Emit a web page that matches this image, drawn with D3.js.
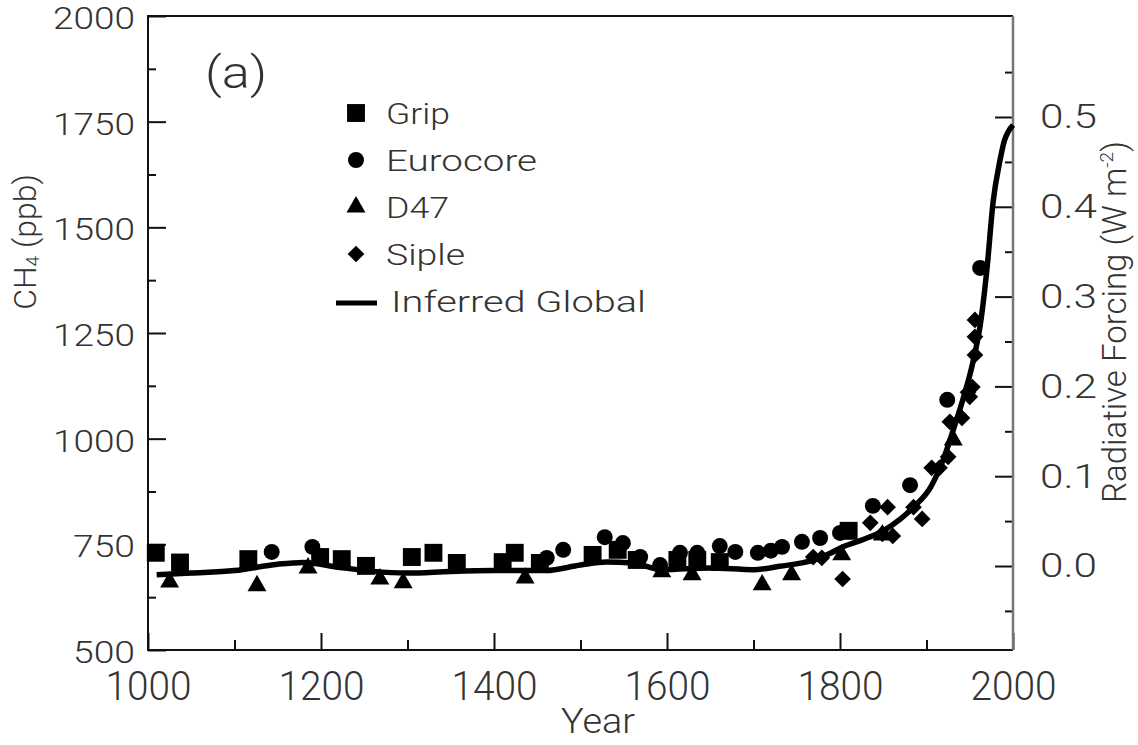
<!DOCTYPE html>
<html>
<head>
<meta charset="utf-8">
<script src="https://cdn.jsdelivr.net/npm/d3@7"></script>
<style>
  html, body { margin: 0; padding: 0; background: #fff; }
  svg { display: block; }
  text { font-family: Roboto, "DejaVu Sans", sans-serif; font-weight: 300; fill: #333; }
</style>
</head>
<body>
<svg id="chart" width="1138" height="745"></svg>
<script>
// ---- data (year, CH4 ppb) ----
const grip = [[1009,730],[1037,707],[1116,715],[1199,720],[1224,715],[1252,699],[1305,720],[1330,730],[1357,706],[1410,708],[1424,730],[1453,706],[1514,725],[1543,737],[1565,713],[1612,713],[1635,713],[1661,708],[1810,782]];
const eurocore = [[1143,732],[1190,744],[1461,718],[1480,737],[1528,767],[1549,753],[1569,720],[1592,701],[1615,730],[1635,730],[1661,746],[1679,732],[1705,730],[1720,735],[1733,744],[1756,756],[1777,765],[1800,777],[1838,841],[1881,890],[1924,1092],[1962,1404]];
const d47 = [[1025,661],[1126,652],[1185,694],[1268,668],[1295,659],[1436,670],[1594,685],[1629,678],[1710,654],[1744,678],[1802,725],[1849,772],[1931,997]];
const siple = [[1769,720],[1779,718],[1803,668],[1835,801],[1849,775],[1855,838],[1861,770],[1885,838],[1895,810],[1906,931],[1915,931],[1925,957],[1927,1040],[1941,1049],[1948,1110],[1950,1099],[1953,1122],[1956,1198],[1956,1241],[1956,1281]];
const inferredGlobal = [[1010,678],[1050,682],[1100,688],[1150,703],[1180,707],[1220,696],[1260,686],[1300,682],[1350,686],[1400,688],[1460,688],[1500,701],[1530,708],[1560,706],[1595,690],[1650,694],[1700,690],[1730,698],[1770,713],[1790,730],[1800,741],[1825,760],[1850,782],[1870,810],[1885,838],[1905,886],[1920,954],[1931,1021],[1942,1092],[1953,1175],[1963,1281],[1970,1404],[1977,1560],[1985,1659],[1990,1705],[1995,1728],[2000,1742]];

const xTicksMajor = [1000,1200,1400,1600,1800,2000];
const xTicksMinor = [1100,1300,1500,1700,1900];
const yTicksMajor = [500,750,1000,1250,1500,1750,2000];
const yTicksMinor = [625,875,1125,1375,1625,1875];
const rTicksMajor = [0.0,0.1,0.2,0.3,0.4,0.5];
const rTicksMinor = [-0.05,0.05,0.15,0.25,0.35,0.45,0.55];

const legendItems = [
  {name:"Grip", type:"square"},
  {name:"Eurocore", type:"circle"},
  {name:"D47", type:"triangle"},
  {name:"Siple", type:"diamond"},
  {name:"Inferred Global", type:"line"}
];
const legendWidths = {"Grip":64, "Eurocore":151, "D47":63, "Siple":79, "Inferred Global":255};

// ---- layout ----
const L = 148, R = 1013, T = 16, B = 650;
const svg = d3.select("#chart");

const x = d3.scaleLinear().domain([1000,2000]).range([L,R]);
const y = d3.scaleLinear().domain([500,2000]).range([B,T]);
const yR = d3.scaleLinear().domain([0,0.5]).range([566,117]);

// left axis
const gl = svg.append("g").attr("transform",`translate(${L},0)`);
gl.call(d3.axisLeft(y).tickValues(yTicksMajor).tickSizeInner(-18).tickSizeOuter(0).tickPadding(13).tickFormat(d3.format("d")));
gl.append("g").call(d3.axisLeft(y).tickValues(yTicksMinor).tickSizeInner(-8).tickSizeOuter(0).tickFormat(""));
gl.selectAll(".domain").remove();
gl.selectAll("line").attr("stroke","#111").attr("stroke-width",2);
gl.selectAll("text").attr("font-size",31).attr("fill","#333").attr("dy","0.4em")
  .attr("textLength", d => String(d).length === 4 ? 82 : 62)
  .attr("lengthAdjust","spacingAndGlyphs");

// bottom axis
const gb = svg.append("g").attr("transform",`translate(0,${B})`);
gb.call(d3.axisBottom(x).tickValues(xTicksMajor).tickSizeInner(-17).tickSizeOuter(0).tickPadding(22).tickFormat(d3.format("d")));
gb.append("g").call(d3.axisBottom(x).tickValues(xTicksMinor).tickSizeInner(-10).tickSizeOuter(0).tickFormat(""));
gb.selectAll(".domain").remove();
gb.selectAll("line").attr("stroke","#111").attr("stroke-width",2);
gb.selectAll("text").attr("font-size",40).attr("fill","#333")
  .attr("textLength",86).attr("lengthAdjust","spacingAndGlyphs");

// right axis
const gr = svg.append("g").attr("transform",`translate(${R},0)`);
gr.call(d3.axisRight(yR).tickValues(rTicksMajor).tickSizeInner(-18).tickSizeOuter(0).tickPadding(27).tickFormat(d3.format(".1f")));
gr.append("g").call(d3.axisRight(yR).tickValues(rTicksMinor).tickSizeInner(-8).tickSizeOuter(0).tickFormat(""));
gr.selectAll(".domain").remove();
gr.selectAll("line").attr("stroke","#111").attr("stroke-width",2);
gr.selectAll("text").attr("font-size",34).attr("fill","#333")
  .attr("textLength",57).attr("lengthAdjust","spacingAndGlyphs");

// frame
svg.append("path").attr("d",`M${R},${T}H${L}V${B}H${R}`).attr("fill","none").attr("stroke","#111").attr("stroke-width",2);
svg.append("line").attr("x1",R).attr("x2",R).attr("y1",T).attr("y2",B).attr("stroke","#777").attr("stroke-width",2.5);

// symbols
const sym = {
  square: d3.symbol().type(d3.symbolSquare).size(320),
  circle: d3.symbol().type(d3.symbolCircle).size(200),
  triangle: d3.symbol().type(d3.symbolTriangle).size(155),
  diamond: d3.symbol().type(d3.symbolSquare).size(140)
};
function drawSeries(data, type) {
  svg.append("g").selectAll("path").data(data).join("path")
    .attr("d", sym[type]())
    .attr("transform", d => `translate(${x(d[0])},${y(d[1])})` + (type === "diamond" ? " rotate(45)" : ""))
    .attr("fill","#000");
}
drawSeries(grip,"square");
drawSeries(eurocore,"circle");
drawSeries(d47,"triangle");
drawSeries(siple,"diamond");

// inferred global line
const line = d3.line().x(d => x(d[0])).y(d => y(d[1])).curve(d3.curveMonotoneX);
svg.append("path").datum(inferredGlobal).attr("d",line)
  .attr("fill","none").attr("stroke","#000").attr("stroke-width",5.5).attr("stroke-linejoin","round");

// legend
const lg = svg.append("g");
legendItems.forEach((it,i) => {
  const yy = 113 + i*47;
  if (it.type === "line") {
    lg.append("line").attr("x1",336).attr("x2",377).attr("y1",yy+2).attr("y2",yy+2).attr("stroke","#000").attr("stroke-width",5);
  } else {
    lg.append("path").attr("d", sym[it.type]())
      .attr("transform", `translate(356,${yy})` + (it.type === "diamond" ? " rotate(45)" : ""))
      .attr("fill","#000");
  }
  lg.append("text").attr("x", it.type === "line" ? 391 : 386).attr("y", yy + 11)
    .attr("font-size",30).text(it.name)
    .attr("textLength", legendWidths[it.name]).attr("lengthAdjust","spacingAndGlyphs");
});

// panel label
svg.append("text").attr("x",205).attr("y",88).attr("font-size",44).text("(a)")
  .attr("textLength",62).attr("lengthAdjust","spacingAndGlyphs");

// axis titles
svg.append("text").attr("x",598).attr("y",733).attr("text-anchor","middle").attr("font-size",35)
  .attr("textLength",74).attr("lengthAdjust","spacingAndGlyphs").text("Year");

const lt = svg.append("text").attr("transform","translate(36,242) rotate(-90)").attr("text-anchor","middle").attr("font-size",32);
lt.append("tspan").text("CH");
lt.append("tspan").attr("font-size",19).attr("dy",3).text("4");
lt.append("tspan").attr("dy",-3).text(" (ppb)");

const rt = svg.append("text").attr("transform","translate(1126,322) rotate(-90)").attr("text-anchor","middle").attr("font-size",33);
rt.append("tspan").text("Radiative Forcing (W m");
rt.append("tspan").attr("font-size",19).attr("dy",-13).text("-2");
rt.append("tspan").attr("dy",13).text(")");
</script>
</body>
</html>
